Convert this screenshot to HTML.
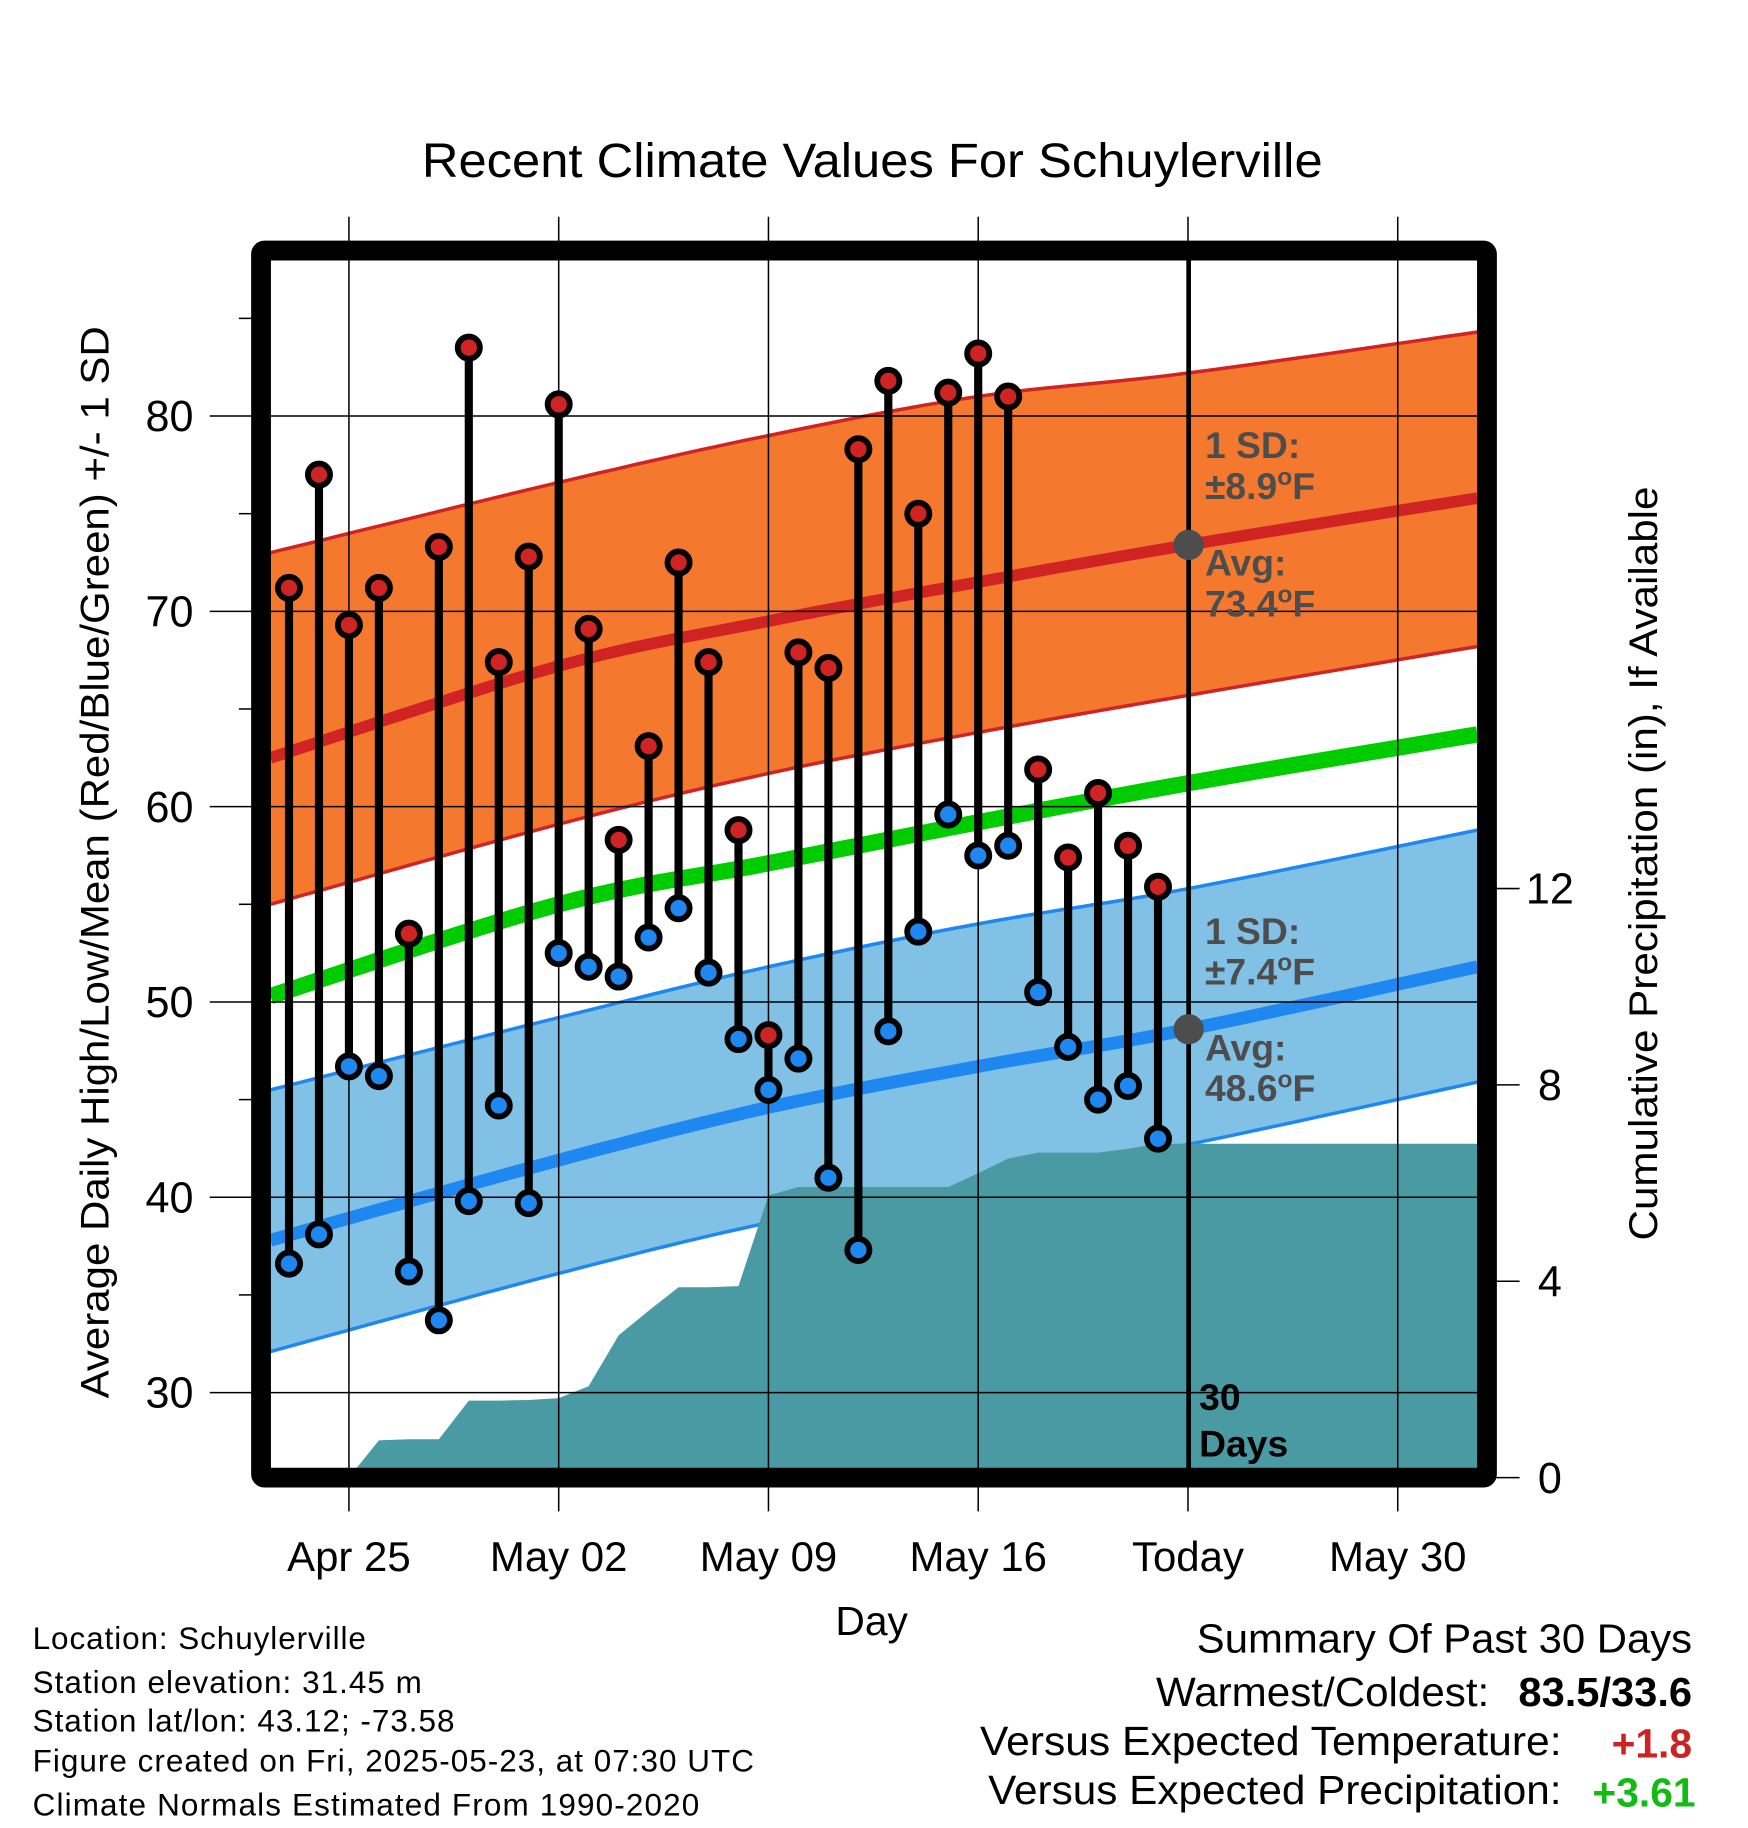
<!DOCTYPE html>
<html><head><meta charset="utf-8"><style>
html,body{margin:0;padding:0;background:#fff}
svg{display:block;font-family:"Liberation Sans",Arial,sans-serif}
</style></head><body>
<svg id="chart" width="1748" height="1828" viewBox="0 0 1500 1568.65" xmlns="http://www.w3.org/2000/svg">
<text x="362" y="152" font-size="41" textLength="773" lengthAdjust="spacingAndGlyphs">Recent Climate Values For Schuylerville</text>
<g id="plot"></g>
<text transform="translate(93,740) rotate(-90)" font-size="34" text-anchor="middle" textLength="920" lengthAdjust="spacingAndGlyphs">Average Daily High/Low/Mean (Red/Blue/Green) +/- 1 SD</text>
<text transform="translate(1422,741) rotate(-90)" font-size="34" text-anchor="middle" textLength="647" lengthAdjust="spacingAndGlyphs">Cumulative Precipitation (in), If Available</text>
<text x="748" y="1403" font-size="35" text-anchor="middle">Day</text>
<g font-size="27" lengthAdjust="spacingAndGlyphs">
<text x="28" y="1415" textLength="286">Location: Schuylerville</text>
<text x="28" y="1453" textLength="334">Station elevation: 31.45 m</text>
<text x="28" y="1486" textLength="362">Station lat/lon: 43.12; -73.58</text>
<text x="28" y="1520" textLength="619">Figure created on Fri, 2025-05-23, at 07:30 UTC</text>
<text x="28" y="1558" textLength="572">Climate Normals Estimated From 1990-2020</text>
</g>
<g font-size="35">
<text x="1027" y="1418" textLength="425" lengthAdjust="spacingAndGlyphs">Summary Of Past 30 Days</text>
<text x="992" y="1464" textLength="286" lengthAdjust="spacingAndGlyphs">Warmest/Coldest:</text>
<text x="1303" y="1464" font-weight="bold" textLength="149" lengthAdjust="spacingAndGlyphs">83.5/33.6</text>
<text x="841" y="1506" textLength="499" lengthAdjust="spacingAndGlyphs">Versus Expected Temperature:</text>
<text x="1452" y="1508" text-anchor="end" font-weight="bold" fill="#cc2222">+1.8</text>
<text x="848" y="1548" textLength="492" lengthAdjust="spacingAndGlyphs">Versus Expected Precipitation:</text>
<text x="1455" y="1550" text-anchor="end" font-weight="bold" fill="#11bb11">+3.61</text>
</g>
</svg>
<script>
const highs=[71.2,77.0,69.3,71.2,53.5,73.3,83.5,67.4,72.8,80.6,69.1,58.3,63.1,72.5,67.4,58.8,48.3,67.9,67.1,78.3,81.8,75.0,81.2,83.2,81.0,61.9,57.4,60.7,58.0,55.9];
const lows=[36.6,38.1,46.7,46.2,36.2,33.7,39.8,44.7,39.7,52.5,51.8,51.3,53.3,54.8,51.5,48.1,45.5,47.1,41.0,37.3,48.5,53.6,59.6,57.5,58.0,50.5,47.7,45.0,45.7,43.0];
const precip=[0,0,0,0.76,0.78,0.78,1.57,1.57,1.58,1.62,1.86,2.9,3.4,3.88,3.88,3.9,5.75,5.92,5.92,5.92,5.92,5.92,5.92,6.2,6.5,6.62,6.62,6.62,6.7,6.8];
const normDays=[-0.62,9,16,23,30,39.66];
const hiUpper=[73.0,76.6,79.0,81.0,82.2,84.3];
const hiAvg=[62.5,67.2,69.5,71.5,73.4,75.8];
const hiLower=[55.0,59.1,61.7,63.8,65.7,68.2];
const meanLine=[50.3,55.0,57.1,59.2,61.2,63.7];
const loUpper=[45.5,49.2,51.8,54.0,55.8,58.8];
const loAvg=[37.8,41.9,44.6,46.7,48.6,51.8];
const loLower=[32.1,36.1,38.7,40.7,42.7,45.9];
const yTicks=[30,40,50,60,70,80];
const y2Ticks=[0,4,8,12];
const xTickLabels=["Apr 25","May 02","May 09","May 16","Today","May 30"];
const xTickDays=[2,9,16,23,30,37];

const NS="http://www.w3.org/2000/svg";
const L=232,R=1268,T=223,B=1260;
const x=d=>248+d*180/7;
const y=v=>357-(v-80)*16.76;
const y2=p=>1268-p*42.125;
const plot=document.getElementById('plot');
function mk(tag,at,parent){const e=document.createElementNS(NS,tag);for(const k in at)e.setAttribute(k,at[k]);(parent||plot).appendChild(e);return e;}
function pts(vals){const p=[];for(let i=0;i<normDays.length;i++)p.push([x(normDays[i]),y(vals[i])]);return p;}
function curve(p){ // Catmull-Rom through points, returned as dense polyline
  const out=[];
  for(let i=0;i<p.length-1;i++){const p0=p[Math.max(0,i-1)],p1=p[i],p2=p[i+1],p3=p[Math.min(p.length-1,i+2)];
    for(let s=0;s<12;s++){const t=s/12,t2=t*t,t3=t2*t;
      const f=(a,b,c,d)=>0.5*((2*b)+(-a+c)*t+(2*a-5*b+4*c-d)*t2+(-a+3*b-3*c+d)*t3);
      out.push([f(p0[0],p1[0],p2[0],p3[0]),f(p0[1],p1[1],p2[1],p3[1])]);}}
  out.push(p[p.length-1]);return out;}
function pstr(p){return p.map(q=>q[0].toFixed(1)+','+q[1].toFixed(1)).join(' ');}
const C=v=>curve(pts(v));

const defs=mk('defs',{});
const cp=mk('clipPath',{id:'clip'},defs);mk('rect',{x:L,y:T,width:R-L,height:B-T},cp);
const g=mk('g',{'clip-path':'url(#clip)'});

const ob=mk('polygon',{points:pstr(C(hiUpper).concat(C(hiLower).reverse())),fill:'#f4792e'},g);


[hiUpper,hiLower].forEach(a=>{const e=mk('polyline',{points:pstr(C(a)),fill:'none',stroke:'#d02424','stroke-width':3},g);

});
const bb=mk('polygon',{points:pstr(C(loUpper).concat(C(loLower).reverse())),fill:'#82c1e6'},g);


[loUpper,loLower].forEach(a=>{const e=mk('polyline',{points:pstr(C(a)),fill:'none',stroke:'#1e88f0','stroke-width':3},g);

});

const pp=[[x(0),y2(0)]];precip.forEach((p,i)=>pp.push([x(i),y2(p)]));
pp.push([R+5,y2(precip[precip.length-1])]);pp.push([R+5,y2(0)+20]);pp.push([x(0),y2(0)+20]);
const pa=mk('polygon',{points:pstr(pp),fill:'#4a9aa3'},g);



const ra=mk('polyline',{points:pstr(C(hiAvg)),fill:'none',stroke:'#d02424','stroke-width':10},g);


const bl=mk('polyline',{points:pstr(C(loAvg)),fill:'none',stroke:'#1e88f0','stroke-width':11},g);


const gl=mk('polyline',{points:pstr(C(meanLine)),fill:'none',stroke:'#00cc00','stroke-width':14},g);



xTickDays.forEach((d,i)=>{const e=mk('line',{x1:x(d),x2:x(d),y1:186,y2:1297,stroke:'#000','stroke-width':1.3});


const t=mk('text',{x:x(d),y:1348,'font-size':36,'text-anchor':'middle'});t.textContent=xTickLabels[i];

});
yTicks.forEach(v=>{const e=mk('line',{x1:180,x2:R,y1:y(v),y2:y(v),stroke:'#000','stroke-width':1.3});


const t=mk('text',{x:166,y:y(v)+13,'font-size':37,'text-anchor':'end'});t.textContent=v;

});
[35,45,55,65,75,85].forEach(v=>{const e=mk('line',{x1:205,x2:216,y1:y(v),y2:y(v),stroke:'#000','stroke-width':1.3});

});
y2Ticks.forEach(p=>{const e=mk('line',{x1:1284,x2:1304,y1:y2(p),y2:y2(p),stroke:'#000','stroke-width':1.3});


const t=mk('text',{x:1330,y:y2(p)+13,'font-size':37,'text-anchor':'middle'});t.textContent=p;

});

const tl=mk('line',{x1:1020,x2:1020,y1:T,y2:B,stroke:'#000','stroke-width':4});



highs.forEach((h,i)=>{const s=mk('line',{x1:x(i),x2:x(i),y1:y(h),y2:y(lows[i]),stroke:'#000','stroke-width':7});

});
function dot(cx,cy,fill,name){const c=mk('circle',{cx:cx,cy:cy,r:9.5,fill:fill,stroke:'#000','stroke-width':5});

}
highs.forEach((h,i)=>dot(x(i),y(h),'#d02424','high-point'));
lows.forEach((l,i)=>dot(x(i),y(l),'#1e88f0','low-point'));

[hiAvg[4],loAvg[4]].forEach(v=>{const c=mk('circle',{cx:1020,cy:y(v),r:13,fill:'#4d4d4d'});

});

function ann(lines,yy){lines.forEach((s,k)=>{const t=mk('text',{x:1034,y:yy+k*35,'font-size':32,'font-weight':'bold',fill:'#4d4d4d'});t.innerHTML=s;

});}
ann(['1 SD:','±8.9<tspan dy="-12" font-size="21">o</tspan><tspan dy="12">F</tspan>'],393);
ann(['Avg:','73.4<tspan dy="-12" font-size="21">o</tspan><tspan dy="12">F</tspan>'],494);
ann(['1 SD:','±7.4<tspan dy="-12" font-size="21">o</tspan><tspan dy="12">F</tspan>'],810);
ann(['Avg:','48.6<tspan dy="-12" font-size="21">o</tspan><tspan dy="12">F</tspan>'],910);
['30','Days'].forEach((s,k)=>{const t=mk('text',{x:1029,y:1210+k*40,'font-size':32,'font-weight':'bold'});t.textContent=s;

});

const fr=mk('rect',{x:224,y:215,width:1052,height:1053,fill:'none',stroke:'#000','stroke-width':17,rx:3});


</script>
</body></html>
